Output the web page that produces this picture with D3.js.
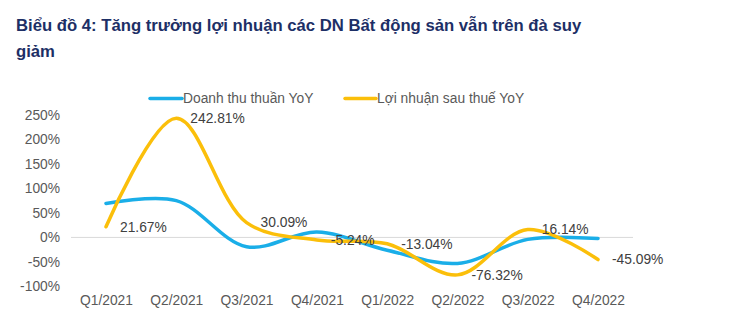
<!DOCTYPE html>
<html>
<head>
<meta charset="utf-8">
<script src="https://cdn.jsdelivr.net/npm/d3@7"></script>
<style>
  html, body { margin: 0; padding: 0; background: #fff; }
  svg { display: block; }
  text { font-family: "Liberation Sans", Arial, sans-serif; }
</style>
</head>
<body>
<svg id="chart" width="734" height="325"></svg>
<script>
// Quarterly YoY growth of real-estate companies
const quarters = ["Q1/2021", "Q2/2021", "Q3/2021", "Q4/2021", "Q1/2022", "Q2/2022", "Q3/2022", "Q4/2022"];
const revenueYoY = [69, 75, -19, 11, -26, -53, -4, -2];
const profitYoY = [21.67, 242.81, 30.09, -5.24, -13.04, -76.32, 16.14, -45.09];
const yTicks = [-100, -50, 0, 50, 100, 150, 200, 250];
const seriesNames = ["Doanh thu thuần YoY", "Lợi nhuận sau thuế YoY"];
const titleLines = ["Biểu đồ 4: Tăng trưởng lợi nhuận các DN Bất động sản vẫn trên đà suy", "giảm"];

const svg = d3.select("#chart");

const x = d3.scalePoint().domain(quarters).range([106, 598]);
const y = d3.scaleLinear().domain([-100, 250]).range([286.5, 114.7]);

// Title
svg.append("g").selectAll("text").data(titleLines).join("text")
  .attr("x", 16).attr("y", (d, i) => 31 + i * 26)
  .attr("font-size", 16.7).attr("font-weight", "bold").attr("fill", "#1d2f66")
  .text(d => d);

// Zero line
svg.append("line")
  .attr("x1", 71).attr("x2", 633).attr("y1", y(0)).attr("y2", y(0))
  .attr("stroke", "#d9d9d9").attr("stroke-width", 1);

// Y axis
const yAxis = d3.axisLeft(y).tickValues(yTicks).tickFormat(d => d + "%").tickSize(0).tickPadding(0);
const gy = svg.append("g").attr("transform", "translate(60,0)").call(yAxis);
gy.select(".domain").remove();
gy.selectAll("text").attr("font-size", 13.8).attr("fill", "#595959")
  .attr("font-family", "'Liberation Sans', Arial, sans-serif");

// X axis
const xAxis = d3.axisBottom(x).tickSize(0).tickPadding(0);
const gx = svg.append("g").attr("transform", "translate(0,295)").call(xAxis);
gx.select(".domain").remove();
gx.selectAll("text").attr("font-size", 13.8).attr("fill", "#595959")
  .attr("font-family", "'Liberation Sans', Arial, sans-serif");

const line = d3.line()
  .x((d, i) => x(quarters[i]))
  .y(d => y(d))
  .curve(d3.curveCatmullRom.alpha(0.5));

const colors = ["#1aaee8", "#fbbf0a"];

svg.append("path").datum(revenueYoY)
  .attr("d", line).attr("fill", "none")
  .attr("stroke", colors[0]).attr("stroke-width", 3.5).attr("stroke-linecap", "round");

svg.append("path").datum(profitYoY)
  .attr("d", line).attr("fill", "none")
  .attr("stroke", colors[1]).attr("stroke-width", 3.5).attr("stroke-linecap", "round");

// Data labels for profit series
svg.append("g").selectAll("text").data(profitYoY).join("text")
  .attr("x", (d, i) => x(quarters[i]) + 14)
  .attr("y", d => y(d))
  .attr("dy", "0.35em")
  .attr("font-size", 13.8).attr("fill", "#404040")
  .text(d => d.toFixed(2) + "%");

// Legend
const legend = [
  { name: seriesNames[0], color: colors[0], x1: 150, x2: 182 },
  { name: seriesNames[1], color: colors[1], x1: 345, x2: 376 }
];
const lg = svg.append("g");
legend.forEach(l => {
  lg.append("line").attr("x1", l.x1).attr("x2", l.x2).attr("y1", 98.5).attr("y2", 98.5)
    .attr("stroke", l.color).attr("stroke-width", 3.5).attr("stroke-linecap", "round");
  lg.append("text").attr("x", l.x2 + 1).attr("y", 98.5).attr("dy", "0.35em")
    .attr("font-size", 13.8).attr("fill", "#595959").text(l.name);
});
</script>
</body>
</html>
